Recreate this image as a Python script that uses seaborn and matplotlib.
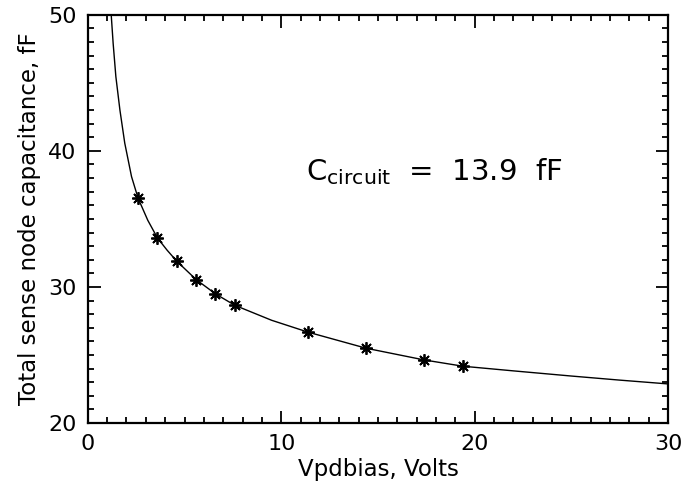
import matplotlib
matplotlib.use("Agg")
import matplotlib.pyplot as plt
import seaborn as sns
from matplotlib.ticker import MultipleLocator

# measured points
vbias = [2.6, 3.6, 4.6, 5.6, 6.6, 7.6, 11.4, 14.4, 17.4, 19.4]
cap = [36.52, 33.60, 31.89, 30.54, 29.49, 28.65, 26.67, 25.49, 24.63, 24.17]

# fit curve
fit_v = [1.21, 1.31, 1.45, 1.66, 1.91, 2.26, 2.6, 3.1, 3.6, 4.1, 4.6, 5.6, 6.6,
         7.6, 9.5, 11.4, 14.4, 17.4, 19.4, 22.0, 25.0, 27.5, 30.0]
fit_c = [50.0, 47.9, 45.46, 43.0, 40.57, 38.11, 36.52, 34.9, 33.6, 32.7, 31.89,
         30.54, 29.49, 28.65, 27.55, 26.67, 25.49, 24.63, 24.17, 23.83, 23.45,
         23.15, 22.87]

sns.set_style("ticks")
plt.rcParams['font.family'] = ['DejaVu Sans']
for k in ['text.color', 'axes.labelcolor', 'xtick.color', 'ytick.color', 'axes.edgecolor']:
    plt.rcParams[k] = 'black'

fig = plt.figure(figsize=(6.86, 4.95), dpi=100)
ax = fig.add_axes([0.128, 0.1455, 0.846, 0.8245])

sns.lineplot(x=fit_v, y=fit_c, color='black', linewidth=1.0, ax=ax, sort=False)
sns.lineplot(x=vbias, y=cap, color='black', linestyle='none', marker=(8, 2, 0),
             markersize=9, markeredgewidth=1.3, markeredgecolor='black', ax=ax)

ax.set_xlim(0, 30)
ax.set_ylim(20, 50)
ax.xaxis.set_major_locator(MultipleLocator(10))
ax.xaxis.set_minor_locator(MultipleLocator(1))
ax.yaxis.set_major_locator(MultipleLocator(10))
ax.yaxis.set_minor_locator(MultipleLocator(1))
ax.tick_params(which='both', direction='in', top=True, right=True,
               labelsize=16, width=1.3, pad=8)
ax.tick_params(which='major', length=9)
ax.tick_params(which='minor', length=4.5)
for s in ax.spines.values():
    s.set_linewidth(1.6)

ax.set_xlabel('Vpdbias, Volts', fontsize=16.5, labelpad=3)
ax.set_ylabel('Total sense node capacitance, fF', fontsize=16.5, labelpad=5)

ax.text(11.3, 38.45, r'C$_{\rm circuit}$  =  13.9  fF', fontsize=21,
        va='center', ha='left')

fig.savefig('out.png', dpi=100)
